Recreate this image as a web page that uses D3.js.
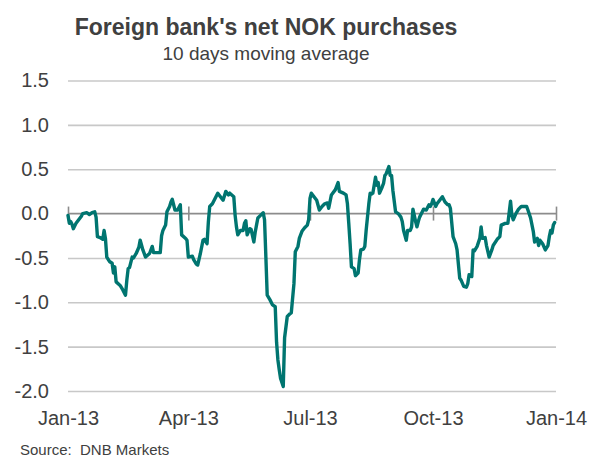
<!DOCTYPE html>
<html>
<head>
<meta charset="utf-8">
<script src="https://cdn.jsdelivr.net/npm/d3@7"></script>
<style>
  html, body { margin: 0; padding: 0; background: #ffffff; }
  svg { display: block; font-family: "Liberation Sans", Arial, Helvetica, sans-serif; }
</style>
</head>
<body>
<svg id="chart" width="592" height="457"></svg>
<script>
// Foreign banks' net NOK purchases, 10-day moving average (NOK bn), 2013
const dates = [
  "2013-01-01","2013-01-02","2013-01-03","2013-01-04","2013-01-05","2013-01-07","2013-01-09","2013-01-11","2013-01-12","2013-01-15",
  "2013-01-17","2013-01-19","2013-01-21","2013-01-22","2013-01-23","2013-01-25","2013-01-27","2013-01-28","2013-01-29","2013-01-30",
  "2013-02-01","2013-02-03","2013-02-04","2013-02-05","2013-02-06","2013-02-09","2013-02-11","2013-02-13","2013-02-14","2013-02-15",
  "2013-02-16","2013-02-18","2013-02-19","2013-02-21","2013-02-23","2013-02-24","2013-02-26","2013-02-28",
  "2013-03-03","2013-03-05","2013-03-06","2013-03-08","2013-03-10","2013-03-11","2013-03-12","2013-03-13","2013-03-15","2013-03-16",
  "2013-03-18","2013-03-19","2013-03-20","2013-03-22","2013-03-24","2013-03-26","2013-03-27","2013-03-30","2013-03-31",
  "2013-04-01","2013-04-04","2013-04-05","2013-04-07","2013-04-08","2013-04-10","2013-04-12","2013-04-13","2013-04-15","2013-04-16",
  "2013-04-17","2013-04-19","2013-04-21","2013-04-23","2013-04-25","2013-04-27","2013-04-29",
  "2013-05-01","2013-05-02","2013-05-05","2013-05-06","2013-05-07","2013-05-08","2013-05-10","2013-05-12","2013-05-13","2013-05-14",
  "2013-05-15","2013-05-17","2013-05-18","2013-05-20","2013-05-21","2013-05-22","2013-05-23","2013-05-25","2013-05-27","2013-05-28",
  "2013-05-29","2013-05-30",
  "2013-06-01","2013-06-03","2013-06-05","2013-06-06","2013-06-07","2013-06-08","2013-06-09","2013-06-11","2013-06-12","2013-06-14",
  "2013-06-16","2013-06-17","2013-06-19","2013-06-20","2013-06-22","2013-06-23","2013-06-25","2013-06-27","2013-06-29","2013-06-30",
  "2013-07-01","2013-07-02","2013-07-05","2013-07-06","2013-07-08","2013-07-10","2013-07-12","2013-07-14","2013-07-15","2013-07-17",
  "2013-07-20","2013-07-22","2013-07-23","2013-07-26","2013-07-28","2013-07-29","2013-07-30","2013-07-31",
  "2013-08-01","2013-08-03","2013-08-04","2013-08-06","2013-08-07","2013-08-08","2013-08-10","2013-08-11","2013-08-12","2013-08-14",
  "2013-08-15","2013-08-16","2013-08-17","2013-08-19","2013-08-20","2013-08-21","2013-08-22","2013-08-24","2013-08-25","2013-08-26",
  "2013-08-27","2013-08-29","2013-08-30","2013-08-31",
  "2013-09-01","2013-09-03","2013-09-05","2013-09-07","2013-09-08","2013-09-09","2013-09-11","2013-09-12","2013-09-14","2013-09-15",
  "2013-09-16","2013-09-18","2013-09-19","2013-09-20","2013-09-21","2013-09-23","2013-09-24","2013-09-26","2013-09-28","2013-09-29",
  "2013-09-30",
  "2013-10-01","2013-10-03","2013-10-04","2013-10-06","2013-10-08","2013-10-10","2013-10-12","2013-10-13","2013-10-14","2013-10-16",
  "2013-10-18","2013-10-19","2013-10-21","2013-10-22","2013-10-24","2013-10-26","2013-10-27","2013-10-28","2013-10-30","2013-10-31",
  "2013-11-01","2013-11-03","2013-11-05","2013-11-06","2013-11-07","2013-11-09","2013-11-10","2013-11-12","2013-11-14","2013-11-15",
  "2013-11-18","2013-11-20","2013-11-21","2013-11-24","2013-11-26","2013-11-28","2013-11-29","2013-11-30",
  "2013-12-02","2013-12-04","2013-12-06","2013-12-08","2013-12-10","2013-12-11","2013-12-13","2013-12-15","2013-12-16","2013-12-18",
  "2013-12-19","2013-12-20","2013-12-22","2013-12-24","2013-12-26","2013-12-27","2013-12-28","2013-12-29","2013-12-30","2013-12-31"
];

const values = [
  -0.02,-0.11,-0.09,-0.12,-0.17,-0.11,-0.07,-0.03,0.00,0.01,
  -0.01,0.01,0.02,-0.04,-0.26,-0.27,-0.29,-0.19,-0.28,-0.49,
  -0.54,-0.56,-0.67,-0.60,-0.77,-0.81,-0.86,-0.92,-0.75,-0.62,
  -0.61,-0.49,-0.50,-0.45,-0.38,-0.30,-0.41,-0.49,
  -0.45,-0.37,-0.44,-0.44,-0.44,-0.44,-0.25,-0.19,-0.13,0.02,
  0.08,0.13,0.16,0.04,0.04,0.10,-0.24,-0.28,-0.30,
  -0.49,-0.48,-0.52,-0.57,-0.58,-0.45,-0.30,-0.29,-0.34,-0.09,
  0.08,0.11,0.17,0.23,0.19,0.15,0.25,
  0.21,0.23,0.19,-0.02,-0.15,-0.24,-0.19,-0.19,-0.11,-0.08,
  -0.24,-0.17,-0.18,-0.32,-0.21,-0.13,-0.05,-0.02,0.01,-0.07,
  -0.49,-0.92,
  -0.97,-1.03,-1.05,-1.45,-1.65,-1.76,-1.86,-1.95,-1.40,-1.16,
  -1.13,-1.12,-0.79,-0.43,-0.37,-0.28,-0.20,-0.16,-0.13,-0.07,
  0.17,0.23,0.17,0.15,0.04,0.08,0.11,0.12,0.06,0.21,
  0.27,0.35,0.25,0.23,0.21,0.11,-0.11,-0.34,
  -0.60,-0.62,-0.70,-0.67,-0.52,-0.41,-0.40,-0.37,-0.19,0.11,
  0.23,0.22,0.23,0.41,0.32,0.35,0.23,0.30,0.34,0.43,
  0.45,0.53,0.43,0.43,
  0.26,0.02,0.00,-0.04,-0.09,-0.19,-0.30,-0.19,-0.19,-0.15,
  0.05,-0.09,-0.15,-0.09,-0.04,0.02,0.05,0.04,0.10,0.08,
  0.11,
  0.16,0.08,0.11,0.15,0.19,0.13,0.10,0.10,0.06,-0.26,
  -0.34,-0.41,-0.73,-0.75,-0.82,-0.83,-0.79,-0.69,-0.71,-0.41,
  -0.42,-0.37,-0.28,-0.15,-0.28,-0.27,-0.36,-0.49,-0.41,-0.36,
  -0.29,-0.26,-0.13,-0.11,-0.11,0.14,-0.02,-0.07,
  0.00,0.05,0.08,0.08,0.08,0.04,-0.05,-0.20,-0.32,-0.28,
  -0.36,-0.30,-0.34,-0.41,-0.36,-0.26,-0.19,-0.22,-0.13,-0.10
];

const yTicks = [1.5, 1.0, 0.5, 0.0, -0.5, -1.0, -1.5, -2.0];
const xTicks = ["2013-01-01", "2013-04-01", "2013-07-01", "2013-10-01", "2014-01-01"];

const titleText = "Foreign bank's net NOK purchases";
const subtitleText = "10 days moving average";
const sourceText = "Source:  DNB Markets";

const parse = d3.timeParse("%Y-%m-%d");
const series = dates.map((d, i) => ({ date: parse(d), value: values[i] }));

const svg = d3.select("#chart");
const textColor = "#404040";

const x = d3.scaleTime()
  .domain([parse(xTicks[0]), parse(xTicks[xTicks.length - 1])])
  .range([68, 556]);
const y = d3.scaleLinear()
  .domain([-2.0, 1.5])
  .range([391, 80.5]);

const left = x.range()[0], right = x.range()[1];

// Horizontal gridlines and value labels
const yAxis = svg.append("g")
  .attr("transform", `translate(${left},0)`)
  .call(d3.axisLeft(y)
    .tickValues(yTicks)
    .tickSize(-(right - left))
    .tickPadding(19)
    .tickFormat(d => d.toFixed(1)));
yAxis.select(".domain").remove();
yAxis.selectAll(".tick line")
  .attr("stroke", d => d === 0 ? "none" : "#c8c8c8")
  .attr("stroke-width", 1.6);
yAxis.selectAll(".tick text")
  .attr("fill", textColor)
  .style("font-size", "20px");

// Zero line with crossing tick marks and date labels
const y0 = y(0);
svg.append("line")
  .attr("x1", left).attr("x2", right)
  .attr("y1", y0).attr("y2", y0)
  .attr("stroke", "#8c8c8c")
  .attr("stroke-width", 1.8);

const xAxis = svg.append("g")
  .attr("transform", `translate(0,${y0 - 7})`)
  .call(d3.axisBottom(x)
    .tickValues(xTicks.map(parse))
    .tickSize(14)
    .tickFormat(d3.timeFormat("%b-%y")));
xAxis.select(".domain").remove();
xAxis.selectAll(".tick line")
  .attr("stroke", "#8c8c8c")
  .attr("stroke-width", 1.6);
xAxis.selectAll(".tick text")
  .attr("fill", textColor)
  .attr("y", 425 - (y0 - 7))
  .attr("dy", 0)
  .style("font-size", "20px");

// Series line
const line = d3.line()
  .x(d => x(d.date))
  .y(d => y(d.value));

svg.append("path")
  .datum(series)
  .attr("fill", "none")
  .attr("stroke", "#007570")
  .attr("stroke-width", 3.4)
  .attr("stroke-linejoin", "round")
  .attr("stroke-linecap", "round")
  .attr("d", line);

// Titles
svg.append("text")
  .attr("x", 266).attr("y", 35)
  .attr("text-anchor", "middle")
  .attr("fill", textColor)
  .style("font-size", "23px")
  .style("font-weight", "bold")
  .text(titleText);

svg.append("text")
  .attr("x", 266).attr("y", 60)
  .attr("text-anchor", "middle")
  .attr("fill", textColor)
  .style("font-size", "19px")
  .text(subtitleText);

// Source note (keeps the double space after the colon)
svg.append("text")
  .attr("x", 20).attr("y", 455)
  .attr("fill", textColor)
  .style("font-size", "15px")
  .style("white-space", "pre")
  .text(sourceText);
</script>
</body>
</html>
